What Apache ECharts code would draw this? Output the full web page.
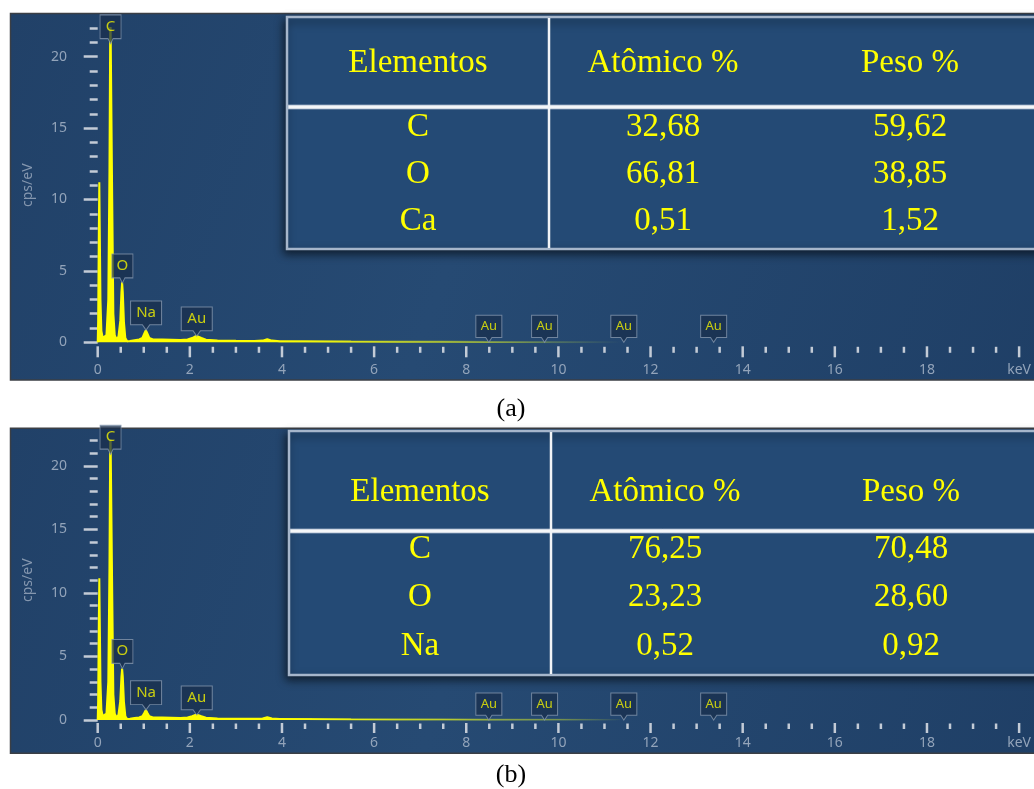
<!DOCTYPE html>
<html><head><meta charset="utf-8">
<script src="https://cdn.jsdelivr.net/npm/echarts@6/dist/echarts.min.js"></script>
<style>html,body{margin:0;padding:0;background:#fff;}#c{width:1034px;height:789px;}</style>
</head><body><div id="c"></div>
<script>
// ---------- DATA ----------
const energyA = [0,0.01,0.025,0.035,0.045,0.06,0.08,0.11,0.15,0.19,0.23,0.255,0.275,0.295,0.315,0.34,0.37,0.41,0.45,0.49,0.515,0.53,0.545,0.57,0.6,0.64,0.7,0.8,0.9,0.97,1.01,1.045,1.08,1.12,1.2,1.4,1.6,1.8,1.95,2.05,2.12,2.17,2.25,2.35,2.6,3.0,3.4,3.58,3.68,3.78,3.95,4.5,5.5,6.5,7.5,8.5,10,11.5,20.2];
const countsA = [0,1.5,8,11.2,8,3,0.8,0.3,0.25,0.5,3,12,24,24,10,2,0.5,0.2,0.4,1.5,3.5,4.2,3.5,1.4,0.3,0.08,0.1,0.15,0.2,0.3,0.6,0.85,0.6,0.3,0.2,0.2,0.18,0.16,0.2,0.3,0.42,0.42,0.3,0.18,0.12,0.1,0.09,0.12,0.22,0.12,0.08,0.07,0.05,0.04,0.03,0.02,0.01,0,0];
const energyB = [0,0.01,0.025,0.035,0.045,0.06,0.08,0.11,0.15,0.19,0.23,0.255,0.275,0.295,0.315,0.34,0.37,0.41,0.45,0.49,0.515,0.53,0.545,0.57,0.6,0.64,0.7,0.8,0.9,0.97,1.01,1.045,1.08,1.12,1.2,1.4,1.6,1.8,1.95,2.05,2.12,2.17,2.25,2.35,2.6,3.0,3.4,3.58,3.68,3.78,3.95,4.5,5.5,6.5,7.5,8.5,10,11.5,20.2];
const countsB = [0,1.5,8,11.15,8,3,0.8,0.3,0.25,0.5,3,12,24,24,10,2,0.5,0.2,0.4,1.5,3.4,4.05,3.4,1.4,0.3,0.08,0.1,0.15,0.2,0.3,0.55,0.8,0.55,0.3,0.2,0.2,0.18,0.16,0.2,0.3,0.4,0.4,0.3,0.18,0.12,0.1,0.09,0.12,0.22,0.12,0.08,0.07,0.05,0.04,0.03,0.02,0.01,0,0];

const xMajorTicks = [0,2,4,6,8,10,12,14,16,18,20];
const xMajorLabels = ['0','2','4','6','8','10','12','14','16','18','keV'];
const xMinorTicks = [0.5,1,1.5,2.5,3,3.5,4.5,5,5.5,6.5,7,7.5,8.5,9,9.5,10.5,11,11.5,12.5,13,13.5,14.5,15,15.5,16.5,17,17.5,18.5,19,19.5];
const yMajorTicks = [0,5,10,15,20];
const yMinorTicks = [1,2,3,4,6,7,8,9,11,12,13,14,16,17,18,19,21,22];

const peakNamesA = ['C','O','Na','Au','Au','Au','Au','Au'];
const peakEnergiesA = [0.279,0.536,1.05,2.15,8.49,9.70,11.42,13.37];
const peakAnchorsA = [20.9,4.15,0.86,0.44,0,0,0,0];
const peakNamesB = ['C','O','Na','Au','Au','Au','Au','Au'];
const peakEnergiesB = [0.279,0.536,1.05,2.15,8.49,9.70,11.42,13.37];
const peakAnchorsB = [20.9,4.05,0.8,0.4,0,0,0,0];

const tableHeader = ['Elementos','Atômico %','Peso %'];
const tableElementsA = ['C','O','Ca'];
const atomicA = ['32,68','66,81','0,51'];
const weightA = ['59,62','38,85','1,52'];
const tableElementsB = ['C','O','Na'];
const atomicB = ['76,25','23,23','0,52'];
const weightB = ['70,48','28,60','0,92'];
const panelCaptions = ['(a)','(b)'];

// ---------- LAYOUT / STYLE ----------
const XMAX = 20.2;
const GRID_LEFT = 97.7;
const GRID_W = 20.2 * 46.55;
const panels = [
  {frameTop:13.5, frameBottom:380, gridTop:28.1, gridH:314.2, xOffset:4, xLabelMargin:17, majLen:11, minLen:6,
   table:{x:287,y:17,h:232,line:107,div:549,cols:[418,663,910],hy:63,rows:[127,174,221]}, capY:409},
  {frameTop:428.3, frameBottom:753.3, gridTop:440.4, gridH:279.6, xOffset:3, xLabelMargin:13, majLen:10, minLen:5.5,
   table:{x:289,y:431,h:244,line:531,div:551,cols:[420,665,911],hy:492,rows:[549,597,646]}, capY:775}
];
const specSets = [
  {e:energyA,c:countsA,names:peakNamesA,pe:peakEnergiesA,pa:peakAnchorsA,el:tableElementsA,at:atomicA,wt:weightA},
  {e:energyB,c:countsB,names:peakNamesB,pe:peakEnergiesB,pa:peakAnchorsB,el:tableElementsB,at:atomicB,wt:weightB}
];
const TICK_COLOR = '#c3cbd6';
const LABEL_COLOR = '#93a4ba';
const SANS = '"Noto Sans", "Open Sans", sans-serif';
const SERIF = '"Liberation Serif", "DejaVu Serif", serif';
const CALLOUT = 'path://M0,0L100,0L100,82L62,82L50,100L38,82L0,82Z';

const grid = [], xAxis = [], yAxis = [], series = [], graphic = [];

function tickSeries(i, values, offset, len) {
  return {type:'custom', xAxisIndex:2*i, yAxisIndex:2*i, silent:true, clip:false, z:20,
    data: values.map(v => [v, 0]), encode:{x:0, y:1},
    renderItem: (params, api) => {
      const pt = api.coord([api.value(0), 0]);
      return {type:'line', shape:{x1:pt[0], y1:pt[1] + offset, x2:pt[0], y2:pt[1] + offset + len},
        style:{stroke:TICK_COLOR, lineWidth:2.5}};
    }};
}

panels.forEach((p, i) => {
  const s = specSets[i];
  grid.push({left: GRID_LEFT, top: p.gridTop, width: GRID_W, height: p.gridH, containLabel: false});
  xAxis.push({type:'value', gridIndex:i, min:0, max:XMAX, position:'bottom', offset:p.xOffset,
    axisLine:{show:false}, splitLine:{show:false}, axisTick:{show:false},
    axisLabel:{customValues:xMajorTicks, margin:p.xLabelMargin, color:LABEL_COLOR, fontSize:14, fontFamily:SANS,
      formatter: v => { const k = xMajorTicks.indexOf(v); return k >= 0 ? xMajorLabels[k] : ''; }}
  });
  xAxis.push({type:'value', gridIndex:i, min:0, max:XMAX, position:'bottom', offset:p.xOffset,
    axisLine:{show:false}, splitLine:{show:false}, axisTick:{show:false}, axisLabel:{show:false}});
  yAxis.push({type:'value', gridIndex:i, min:0, max:22, position:'left', offset:11.7,
    axisLine:{show:false}, splitLine:{show:false},
    axisTick:{show:true, customValues:yMajorTicks, length:14, lineStyle:{color:TICK_COLOR, width:2.5}},
    axisLabel:{customValues:yMajorTicks, margin:19, color:LABEL_COLOR, fontSize:14, fontFamily:SANS}
  });
  yAxis.push({type:'value', gridIndex:i, min:0, max:22, position:'left', offset:11.7,
    name:'cps/eV', nameLocation:'middle', nameGap:51, nameRotate:90,
    nameTextStyle:{color:'#8597af', fontSize:14, fontFamily:SANS},
    axisLine:{show:false}, splitLine:{show:false},
    axisTick:{show:true, customValues:yMinorTicks, length:8, lineStyle:{color:TICK_COLOR, width:2.5}},
    axisLabel:{show:false}
  });
  series.push({type:'line', xAxisIndex:2*i, yAxisIndex:2*i, data:s.e.map((e,k)=>[e, s.c[k]]),
    showSymbol:false, symbol:'none', silent:true, clip:true, z:3,
    lineStyle:{width:2, color:new echarts.graphic.LinearGradient(97.7, 0, 660, 0, [
      {offset:0, color:'#ffff00'},{offset:0.32, color:'#ffff00'},
      {offset:0.82, color:'rgba(200,230,60,0.25)'},{offset:0.93, color:'rgba(200,230,60,0)'},
      {offset:1, color:'rgba(200,230,60,0)'}], true)},
    areaStyle:{color:'#ffff00', opacity:1}});
  series.push(tickSeries(i, xMajorTicks, p.xOffset, p.majLen));
  series.push(tickSeries(i, xMinorTicks, p.xOffset + 0.5, p.minLen));
  series.push({type:'scatter', xAxisIndex:2*i, yAxisIndex:2*i, silent:true, z:5, clip:false,
    data:s.names.map((n,k)=>{
      const far = k >= 4;
      const w = far ? 26 : (n.length === 1 ? 21 : 31);
      const h = far ? 27 : 29;
      return {value:[s.pe[k], s.pa[k]], name:n, symbolSize:[w,h],
        label:{fontSize: far ? 13 : 15, offset:[0, far ? -2.5 : -2.8]}};
    }),
    symbol:CALLOUT, symbolOffset:[0,'-50%'],
    itemStyle:{color:'rgba(24,46,76,0.92)', borderColor:'#8496ad', borderWidth:1},
    label:{show:true, position:'inside', formatter:'{b}', color:'#f2f200', fontFamily:SANS, fontSize:15}
  });

  graphic.push({type:'rect', z:-10, silent:true,
    shape:{x:10.5, y:p.frameTop, width:1040, height:p.frameBottom - p.frameTop},
    style:{fill:new echarts.graphic.LinearGradient(0,0,1,1,[
      {offset:0, color:'#214168'},{offset:0.45, color:'#264a73'},{offset:1, color:'#1f3f66'}]),
      stroke:'#3b3f45', lineWidth:1.5}});
  const t = p.table;
  const tw = 1060 - t.x;
  graphic.push({type:'rect', z:50, silent:true, shape:{x:t.x, y:t.y, width:tw, height:t.h},
    style:{fill:'#244a75', stroke:'#a6b6cb', lineWidth:2.5, shadowBlur:8, shadowOffsetX:-2, shadowOffsetY:4, shadowColor:'rgba(0,0,0,0.55)'}});
  graphic.push({type:'rect', z:51, silent:true, shape:{x:t.x+1, y:t.line-2, width:tw, height:4},
    style:{fill:'#f4f6f8', stroke:'#9fb0c6', lineWidth:0.8}});
  graphic.push({type:'line', z:52, silent:true, shape:{x1:t.div, y1:t.y+1, x2:t.div, y2:t.y+t.h-1},
    style:{stroke:'#f2f4f7', lineWidth:2.5}});
  tableHeader.forEach((txt,k)=>{
    graphic.push({type:'text', z:53, silent:true, x:t.cols[k], y:t.hy,
      style:{text:txt, fill:'#ffff00', font:'33px ' + SERIF, align:'center', verticalAlign:'middle'}});
  });
  const cols = [s.el, s.at, s.wt];
  t.rows.forEach((ry, r)=>{
    cols.forEach((col, k)=>{
      graphic.push({type:'text', z:53, silent:true, x:t.cols[k], y:ry,
        style:{text:col[r], fill:'#ffff00', font:'33px ' + SERIF, align:'center', verticalAlign:'middle'}});
    });
  });
  graphic.push({type:'text', z:60, silent:true, x:511, y:p.capY,
    style:{text:panelCaptions[i], fill:'#000', font:'26px ' + SERIF, align:'center', verticalAlign:'middle'}});
});

const chart = echarts.init(document.getElementById('c'), null, {renderer:'canvas'});
chart.setOption({animation:false, backgroundColor:'#ffffff', grid, xAxis, yAxis, series, graphic});
</script>
</body></html>
